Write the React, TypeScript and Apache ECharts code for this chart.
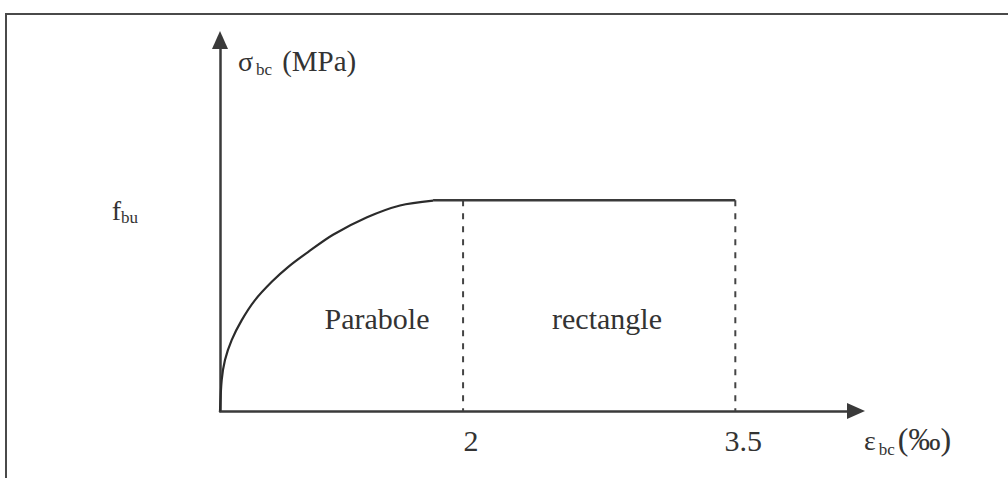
import React, { useEffect, useRef } from "react";
import * as echarts from "echarts";

// Schematic parabola-rectangle diagram (x in drawing units along the strain axis, y in units of f_bu)
const curveX = [0, 0.014, 0.041, 0.096, 0.179, 0.288, 0.426, 0.562, 0.724, 0.93, 1.21, 1.481, 1.753];
const curveY = [0, 0.147, 0.242, 0.336, 0.431, 0.526, 0.613, 0.684, 0.754, 0.836, 0.919, 0.975, 0.998];
const plateauX = [1.753, 4.24];
const plateauY = [1.0, 1.0];
const xTickValues = [2, 4.24];
const xTickLabels = ["2", "3.5"];
const yTickValues = [1];
const regionLabels = ["Parabole", "rectangle"];

const SERIF = "'Liberation Serif', 'Times New Roman', serif";
const INK = "#2b2b2b";

export default function App() {
  const ref = useRef<HTMLDivElement>(null);
  useEffect(() => {
    if (!ref.current) return;
    const chart = echarts.init(ref.current, null, { renderer: "svg" });
    const curve = curveX.map((x, i) => [x, curveY[i]]);
    const plateau = plateauX.map((x, i) => [x, plateauY[i]]);
    const dashed = xTickValues.map((x) => ({
      type: "line",
      data: [
        [x, 1],
        [x, 0],
      ],
      symbol: "none",
      lineStyle: { color: "#444", width: 2, type: [6, 7] },
      z: 1,
    }));
    chart.setOption({
      animation: false,
      backgroundColor: "#fff",
      grid: { left: 220, right: 156, top: 40, bottom: 67 },
      xAxis: {
        type: "value",
        min: 0,
        max: 5.2,
        axisLine: {
          onZero: false,
          symbol: ["none", "triangle"],
          symbolSize: [16, 18],
          symbolOffset: [0, 4],
          lineStyle: { color: "#3a3a3a", width: 2.5 },
        },
        axisTick: { show: false },
        splitLine: { show: false },
        axisLabel: {
          customValues: xTickValues,
          formatter: (v: number) => {
            const i = xTickValues.findIndex((t) => Math.abs(t - v) < 1e-6);
            return i >= 0 ? xTickLabels[i] : "";
          },
          fontFamily: SERIF,
          fontSize: 30,
          color: "#333",
          margin: 14,
          padding: [0, 0, 0, 16],
        },
      },
      yAxis: {
        type: "value",
        min: 0,
        max: 1.76,
        axisLine: {
          onZero: false,
          symbol: ["none", "triangle"],
          symbolSize: [16, 18],
          lineStyle: { color: "#3a3a3a", width: 2.5 },
        },
        axisTick: { show: false },
        splitLine: { show: false },
        axisLabel: {
          customValues: yTickValues,
          formatter: () => "{f|f}{s|bu}",
          margin: 82,
          padding: [22, 0, 0, 0],
          rich: {
            f: { fontFamily: SERIF, fontSize: 28, color: "#333", verticalAlign: "bottom", padding: [0, 0, 2, 0] },
            s: { fontFamily: SERIF, fontSize: 17, color: "#333", verticalAlign: "bottom" },
          },
        },
      },
      series: [
        ...dashed,
        {
          type: "line",
          data: curve,
          symbol: "none",
          smooth: 0.3,
          lineStyle: { color: INK, width: 2.2 },
          z: 3,
        },
        {
          type: "line",
          data: plateau,
          symbol: "none",
          lineStyle: { color: "#3a3a3a", width: 2.5 },
          z: 3,
        },
      ],
      graphic: [
        { type: "line", shape: { x1: 5, y1: 14, x2: 1008, y2: 14 }, style: { stroke: "#4a4a4a", lineWidth: 2 } },
        { type: "line", shape: { x1: 6, y1: 14, x2: 6, y2: 478 }, style: { stroke: "#4a4a4a", lineWidth: 2 } },
        {
          type: "text",
          x: 238,
          y: 62,
          style: {
            text: "{a|σ}{s|bc}{b|(MPa)}",
            verticalAlign: "middle",
            rich: {
              a: { fontFamily: SERIF, fontSize: 28, fill: "#333", verticalAlign: "bottom", padding: [0, 3, 3, 0] },
              s: { fontFamily: SERIF, fontSize: 17, fill: "#333", verticalAlign: "bottom", padding: [0, 10, 0, 0] },
              b: { fontFamily: SERIF, fontSize: 29, fill: "#333", verticalAlign: "bottom", padding: [0, 0, 3, 0] },
            },
          },
        },
        {
          type: "text",
          x: 864,
          y: 440,
          style: {
            text: "{a|ε}{s|bc}{b|(‰)}",
            verticalAlign: "middle",
            rich: {
              a: { fontFamily: SERIF, fontSize: 28, fill: "#333", verticalAlign: "bottom", padding: [0, 3, 3, 0] },
              s: { fontFamily: SERIF, fontSize: 17, fill: "#333", verticalAlign: "bottom", padding: [0, 3, 0, 0] },
              b: { fontFamily: SERIF, fontSize: 32, fill: "#333", verticalAlign: "bottom", padding: [0, 0, 3, 0] },
            },
          },
        },
        {
          type: "text",
          x: 377,
          y: 318,
          style: { text: regionLabels[0], fontFamily: SERIF, fontSize: 30, fill: "#333", align: "center", verticalAlign: "middle" },
        },
        {
          type: "text",
          x: 607,
          y: 318,
          style: { text: regionLabels[1], fontFamily: SERIF, fontSize: 30, fill: "#333", align: "center", verticalAlign: "middle" },
        },
      ],
    });
    return () => chart.dispose();
  }, []);
  return (
    <div
      ref={ref}
      style={{ position: "absolute", left: 0, top: 0, width: 1008, height: 478, background: "#fff" }}
    />
  );
}
